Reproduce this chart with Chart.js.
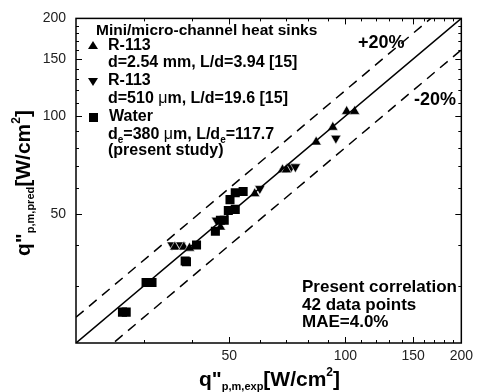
<!DOCTYPE html>
<html>
<head>
<meta charset="utf-8">
<script src="https://cdn.jsdelivr.net/npm/chart.js@4.4.1/dist/chart.umd.min.js"></script>
<style>
  html, body { margin: 0; padding: 0; background: #fff; }
  #wrap { width: 478px; height: 392px; }
</style>
</head>
<body>
<div id="wrap"><canvas id="c" width="478" height="392"></canvas></div>
<script>
// Measured vs. predicted mean heat flux q''p,m [W/cm2]
const waterExp  = [26.4, 27.0, 30.4, 31.5, 38.4, 38.7, 41.1, 46.0, 47.4, 48.5, 49.7, 51.8, 50.2, 51.8, 54.3];
const waterPred = [24.9, 24.9, 30.7, 30.7, 35.8, 35.6, 40.1, 44.2, 47.8, 47.8, 51.2, 51.6, 55.3, 58.1, 58.6];

const r113LargeExp  = [36.1, 38.1, 39.4, 47.4, 58.2, 68.7, 70.3, 84.0, 92.8, 100.8, 105.7];
const r113LargePred = [39.5, 39.5, 39.2, 45.5, 57.7, 68.3, 68.3, 83.2, 92.4, 103.4, 103.4];

const r113SmallExp  = [35.5, 37.4, 46.3, 60.0, 72.4, 74.2, 94.5];
const r113SmallPred = [40.1, 40.1, 47.8, 59.8, 69.8, 69.8, 85.5];

// Reference lines: perfect agreement and +/-20 % bands
const refX = [20, 200];
const bandFactors = { upper: 1.2, exact: 1.0, lower: 0.8 };

const axisMin = 20, axisMax = 200;
const labelTicks = [50, 100, 150, 200];
const minorTicks = [30, 40, 60, 70, 80, 90, 110, 120, 130, 140, 160, 170, 180, 190];

const FONT = "'Liberation Sans', Arial, Helvetica, sans-serif";

const pts = (xs, ys) => xs.map((x, i) => ({ x, y: ys[i] }));
const refLine = f => refX.map(x => ({ x, y: x * f }));

// Inward tick marks on all four sides, frame, axis titles and annotations
const decor = {
  id: 'decor',
  afterDraw(chart) {
    const ctx = chart.ctx;
    const a = chart.chartArea;
    const xs = chart.scales.x, ys = chart.scales.y;
    ctx.save();
    ctx.strokeStyle = '#000';
    ctx.lineWidth = 1.5;
    ctx.strokeRect(a.left, a.top, a.right - a.left, a.bottom - a.top);

    ctx.lineWidth = 1;
    const tick = (vals, len) => {
      vals.forEach(v => {
        const px = Math.round(xs.getPixelForValue(v)) + 0.5;
        const py = Math.round(ys.getPixelForValue(v)) + 0.5;
        ctx.beginPath();
        ctx.moveTo(px, a.bottom); ctx.lineTo(px, a.bottom - len);
        ctx.moveTo(px, a.top); ctx.lineTo(px, a.top + len);
        ctx.moveTo(a.left, py); ctx.lineTo(a.left + len, py);
        ctx.moveTo(a.right, py); ctx.lineTo(a.right - len, py);
        ctx.stroke();
      });
    };
    tick(minorTicks, 3);
    tick(labelTicks, 6);

    ctx.fillStyle = '#000';
    ctx.textBaseline = 'alphabetic';
    ctx.textAlign = 'left';

    // draws a sequence of [text, font, dy] pieces starting at x
    const runs = (parts, x, y) => {
      parts.forEach(([t, f, dy]) => {
        ctx.font = f;
        ctx.fillText(t, x, y + dy);
        x += ctx.measureText(t).width;
      });
      return x;
    };

    const big = 'bold 21px ' + FONT;
    const sub = 'bold 11px ' + FONT;
    const sup = 'bold 12px ' + FONT;

    // x-axis title
    runs([['q"', big, 0], ['p,m,exp', sub, 4], ['[W/cm', big, 0], ['2', sup, -10], [']', big, 0]], 199, 386);

    // y-axis title
    ctx.save();
    ctx.translate(30, 256);
    ctx.rotate(-Math.PI / 2);
    runs([['q"', big, 0], ['p,m,pred', sub, 4], ['[W/cm', big, 0], ['2', sup, -10], [']', big, 0]], 0, 0);
    ctx.restore();

    // legend
    const leg = 'bold 16px ' + FONT;
    const legSub = 'bold 10px ' + FONT;
    ctx.textBaseline = 'middle';
    ctx.font = 'bold 15.5px ' + FONT;
    ctx.fillText('Mini/micro-channel heat sinks', 96, 31);
    ctx.font = leg;
    ctx.fillText('R-113', 108, 46);
    ctx.fillText('d=2.54 mm, L/d=3.94 [15]', 108, 63);
    ctx.fillText('R-113', 108, 81);
    runs([['d=510 ', leg, 0], ['\u03bc', '16px ' + FONT, 0], ['m, L/d=19.6 [15]', leg, 0]], 108, 99);
    ctx.font = leg;
    ctx.fillText('Water', 109, 117);
    runs([['d', leg, 0], ['e', legSub, 5], ['=380 ', leg, 0], ['\u03bc', '16px ' + FONT, 0],
          ['m, L/d', leg, 0], ['e', legSub, 5], ['=117.7', leg, 0]], 108, 135);
    ctx.font = leg;
    ctx.fillText('(present study)', 108, 151);

    // legend markers
    ctx.beginPath();
    ctx.moveTo(93, 41); ctx.lineTo(98, 49); ctx.lineTo(88, 49); ctx.closePath(); ctx.fill();
    ctx.beginPath();
    ctx.moveTo(88, 78); ctx.lineTo(98, 78); ctx.lineTo(93, 86); ctx.closePath(); ctx.fill();
    ctx.fillRect(89, 113, 9, 9);

    // band labels
    ctx.font = 'bold 18px ' + FONT;
    ctx.fillText('+20%', 358, 43);
    ctx.fillText('-20%', 414, 100);

    // correlation summary
    ctx.font = 'bold 17px ' + FONT;
    ctx.fillText('Present correlation', 302, 287);
    ctx.fillText('42 data points', 302, 305);
    ctx.fillText('MAE=4.0%', 302, 322);
    ctx.restore();
  }
};

new Chart(document.getElementById('c'), {
  type: 'scatter',
  data: {
    datasets: [
      { type: 'line', data: refLine(bandFactors.exact), borderColor: '#000', borderWidth: 1.5, pointRadius: 0, fill: false },
      { type: 'line', data: refLine(bandFactors.upper), borderColor: '#000', borderWidth: 1.5, borderDash: [10, 7], pointRadius: 0, fill: false },
      { type: 'line', data: refLine(bandFactors.lower), borderColor: '#000', borderWidth: 1.5, borderDash: [10, 7], pointRadius: 0, fill: false },
      { label: 'Water', data: pts(waterExp, waterPred), pointStyle: 'rect', pointRadius: 6.4,
        backgroundColor: '#000', borderColor: '#000', borderWidth: 0 },
      { label: 'R-113 d=2.54 mm', data: pts(r113LargeExp, r113LargePred), pointStyle: 'triangle', pointRadius: 6,
        backgroundColor: '#000', borderColor: '#fff', borderWidth: 0.6 },
      { label: 'R-113 d=510 um', data: pts(r113SmallExp, r113SmallPred), pointStyle: 'triangle', rotation: 180, pointRadius: 6,
        backgroundColor: '#000', borderColor: '#fff', borderWidth: 0.6 }
    ]
  },
  options: {
    responsive: false,
    animation: false,
    events: [],
    layout: { autoPadding: false, padding: { top: 15, right: 12, left: 0, bottom: 0 } },
    plugins: { legend: { display: false }, tooltip: { enabled: false } },
    scales: {
      x: {
        type: 'logarithmic', min: axisMin, max: axisMax,
        afterBuildTicks: s => { s.ticks = labelTicks.map(v => ({ value: v })); },
        afterFit: s => { s.height = 49; },
        grid: { display: false, drawTicks: false },
        border: { display: false },
        ticks: { color: '#222', font: { family: FONT, size: 14 }, padding: 5, maxRotation: 0, autoSkip: false,
                 callback: v => String(v) }
      },
      y: {
        type: 'logarithmic', min: axisMin, max: axisMax,
        afterBuildTicks: s => { s.ticks = labelTicks.map(v => ({ value: v })); },
        afterFit: s => { s.width = 76; },
        grid: { display: false, drawTicks: false },
        border: { display: false },
        ticks: { color: '#222', font: { family: FONT, size: 14 }, padding: 10, autoSkip: false,
                 callback: v => String(v) }
      }
    }
  },
  plugins: [decor]
});
</script>
</body>
</html>
